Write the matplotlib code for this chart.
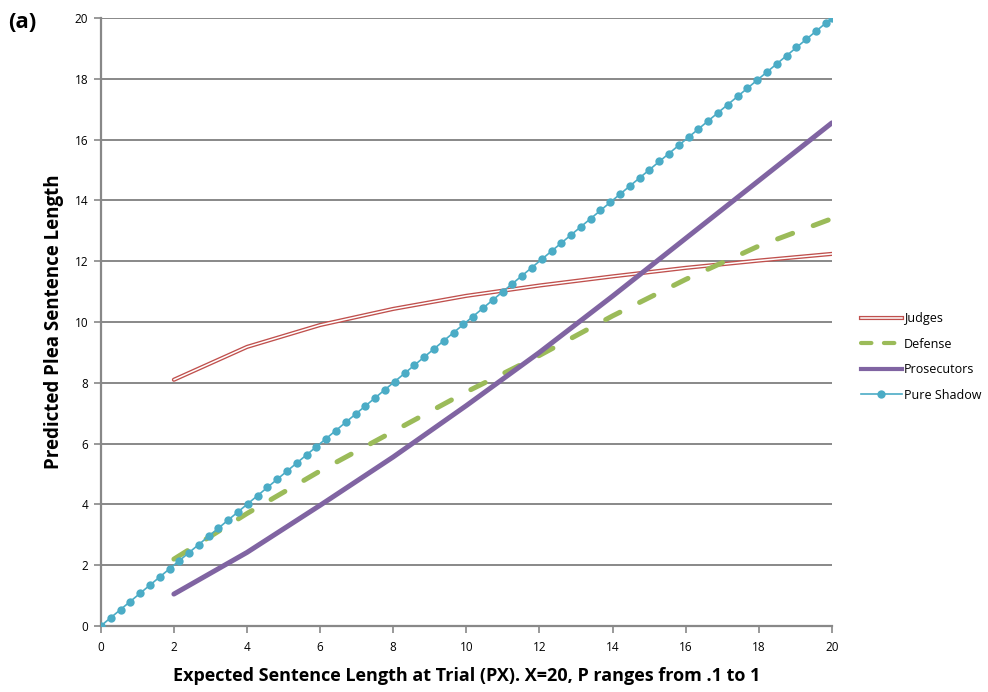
#!/usr/bin/env python3
"""Predicted plea sentence length vs expected trial sentence, panel (a)."""

import matplotlib
matplotlib.use("Agg")
import matplotlib.pyplot as plt
from matplotlib.lines import Line2D
from matplotlib.legend_handler import HandlerTuple


# expected sentence at trial (P * X), P = .1 .. 1, X = 20
px = [2, 4, 6, 8, 10, 12, 14, 16, 18, 20]
judges = [8.1, 9.18, 9.9, 10.43, 10.86, 11.2, 11.5, 11.78, 12.02, 12.24]
defense = [2.2, 3.7, 5.1, 6.4, 7.7, 8.9, 10.2, 11.4, 12.5, 13.4]
prosecutors = [1.05, 2.42, 3.97, 5.56, 7.25, 9.0, 10.85, 12.75, 14.65, 16.55]

# pure shadow: plea equals expected sentence, many points along the diagonal
shadow_x = [
    0.0, 0.27, 0.54, 0.80, 1.07, 1.34, 1.61, 1.88, 2.14, 2.41, 2.68, 2.95,
    3.22, 3.48, 3.75, 4.02, 4.29, 4.56, 4.82, 5.09, 5.36, 5.63, 5.90, 6.16,
    6.43, 6.70, 6.97, 7.24, 7.50, 7.77, 8.04, 8.31, 8.58, 8.84, 9.11, 9.38,
    9.65, 9.92, 10.18, 10.45, 10.72, 10.99, 11.26, 11.52, 11.79, 12.06,
    12.33, 12.60, 12.86, 13.13, 13.40, 13.67, 13.94, 14.20, 14.47, 14.74,
    15.01, 15.28, 15.54, 15.81, 16.08, 16.35, 16.62, 16.88, 17.15, 17.42,
    17.69, 17.96, 18.22, 18.49, 18.76, 19.03, 19.30, 19.56, 19.83, 20.0,
]
shadow_y = list(shadow_x)

ticks = [0, 2, 4, 6, 8, 10, 12, 14, 16, 18, 20]

RED = "#C0504D"
GREEN = "#9BBB59"
PURPLE = "#8064A2"
CYAN = "#4BACC6"
GRID = "#888888"

plt.rcParams["font.family"] = ["Open Sans", "DejaVu Sans"]

fig = plt.figure(figsize=(9.88, 6.92), dpi=100)
ax = fig.add_axes([0.102, 0.0954, 0.740, 0.8786])

for y in ticks[1:]:
    ax.axhline(y, color=GRID, lw=1.4, zorder=0)

# judges: double line (red outline, white core)
ax.plot(px, judges, color=RED, lw=3.0, solid_capstyle="round", zorder=2)
ax.plot(px, judges, color="white", lw=1.1, solid_capstyle="round", zorder=2.1)

ax.plot(px, defense, color=GREEN, lw=3.6, dashes=(3.2, 4.4),
        dash_capstyle="round", zorder=3)
ax.plot(px, prosecutors, color=PURPLE, lw=3.6, solid_capstyle="round", zorder=3)
ax.plot(shadow_x, shadow_y, color=CYAN, lw=1.2, marker="o", markersize=6,
        markeredgewidth=0, zorder=4)

ax.set_xlim(0, 20)
ax.set_ylim(0, 20)
ax.set_xticks(ticks)
ax.set_yticks(ticks)
ax.tick_params(direction="out", length=5, width=1.2, color=GRID,
               labelsize=8.5, pad=4)
ax.tick_params(axis="x", pad=6)
for side in ("top", "right"):
    ax.spines[side].set_visible(False)
for side in ("left", "bottom"):
    ax.spines[side].set_color(GRID)
    ax.spines[side].set_linewidth(1.6)

ax.set_xlabel("Expected Sentence Length at Trial (PX). X=20, P ranges from .1 to 1",
              fontsize=13, fontweight="bold", labelpad=9)
ax.set_ylabel("Predicted Plea Sentence Length", fontsize=13.5,
              fontweight="bold", labelpad=8)

fig.text(0.008, 0.968, "(a)", fontsize=16, fontweight="bold", ha="left",
         va="center")

h_judges = (Line2D([], [], color=RED, lw=3.0), Line2D([], [], color="white", lw=1.1))
h_def = Line2D([], [], color=GREEN, lw=3.0, dashes=(2.5, 3), dash_capstyle="round")
h_pro = Line2D([], [], color=PURPLE, lw=3.0)
h_sha = Line2D([], [], color=CYAN, lw=1.2, marker="o", markersize=6,
               markeredgewidth=0)
fig.legend([h_judges, h_def, h_pro, h_sha],
           ["Judges", "Defense", "Prosecutors", "Pure Shadow"],
           handler_map={tuple: HandlerTuple(ndivide=1, pad=0)},
           loc="center left", bbox_to_anchor=(0.871, 0.484), frameon=False,
           fontsize=9, handlelength=3.3, handletextpad=0.15,
           labelspacing=1.0, borderaxespad=0, borderpad=0)

fig.savefig("out.png", dpi=100, facecolor="white")
